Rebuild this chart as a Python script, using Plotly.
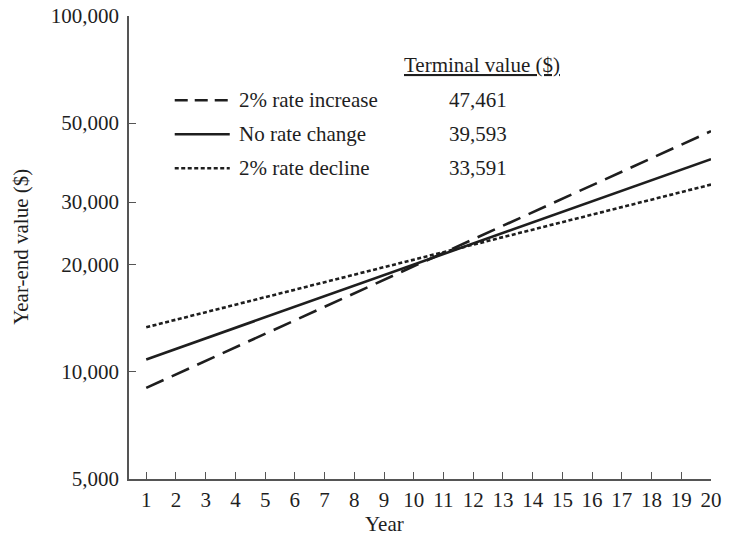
import plotly.graph_objects as go

# ---- data ----
years = [1, 20]
series_names = ["2% rate increase", "No rate change", "2% rate decline"]
rate_increase = [9015, 47461]
no_change = [10840, 39593]
rate_decline = [13350, 33591]
terminal_labels = ["47,461", "39,593", "33,591"]
x_ticks = list(range(1, 21))
y_ticks = [5000, 10000, 20000, 30000, 50000, 100000]
y_tick_text = ["5,000", "10,000", "20,000", "30,000", "50,000", "100,000"]

W, H = 740, 541
L, R, T, B = 129.3, 711.0, 15.7, 479.0
FONT = "Liberation Serif"
INK = "#1e1e1e"
FS = 21

def px(x):
    return (x - L) / (R - L)

def py(y):
    return (B - y) / (B - T)

dashes = ["19px,9px", "solid", "4px,2.5px"]
all_series = [rate_increase, no_change, rate_decline]

fig = go.Figure()
for name, vals, d in zip(series_names, all_series, dashes):
    fig.add_trace(go.Scatter(
        x=years, y=vals, mode="lines", name=name,
        line=dict(color=INK, width=2.6, dash=d),
        showlegend=False, hoverinfo="skip"))

shapes = []
annotations = []
legend_dash = ["13px,7px", "solid", "4px,2.5px"]
row_y = [100, 134, 168]
for name, lab, d, yy in zip(series_names, terminal_labels, legend_dash, row_y):
    shapes.append(dict(type="line", xref="paper", yref="paper",
                       x0=px(175), x1=px(230), y0=py(yy), y1=py(yy),
                       line=dict(color=INK, width=2.6, dash=d)))
    annotations.append(dict(text=name, xref="paper", yref="paper",
                            x=px(237), y=py(yy), xanchor="left", yanchor="middle",
                            showarrow=False, font=dict(family=FONT, size=FS, color=INK)))
    annotations.append(dict(text=lab, xref="paper", yref="paper",
                            x=px(447), y=py(yy), xanchor="left", yanchor="middle",
                            showarrow=False, font=dict(family=FONT, size=FS, color=INK)))
annotations.append(dict(text="<u>Terminal value ($)</u>", xref="paper", yref="paper",
                        x=px(402), y=py(65), xanchor="left", yanchor="middle",
                        showarrow=False, font=dict(family=FONT, size=FS, color=INK)))
annotations.append(dict(text="Year-end value ($)", xref="paper", yref="paper",
                        x=px(22), y=py(247), xanchor="center", yanchor="middle",
                        textangle=-90,
                        showarrow=False, font=dict(family=FONT, size=FS, color=INK)))
annotations.append(dict(text="Year", xref="paper", yref="paper",
                        x=px(385), y=py(524), xanchor="center", yanchor="middle",
                        showarrow=False, font=dict(family=FONT, size=FS, color=INK)))

fig.update_layout(
    width=W, height=H,
    margin=dict(l=L, r=W - R, t=T, b=H - B, pad=0),
    paper_bgcolor="white", plot_bgcolor="white",
    font=dict(family=FONT, size=FS, color=INK),
    shapes=shapes, annotations=annotations,
    showlegend=False,
)
fig.update_xaxes(
    range=[0.42, 20], tickmode="array", tickvals=x_ticks,
    ticktext=[str(v) for v in x_ticks], automargin=False,
    showgrid=False, zeroline=False, showline=True, linecolor="#555555", linewidth=1.6,
    ticks="inside", ticklen=7, tickwidth=1.4, tickcolor="#555555",
    ticklabelstandoff=1,
)
fig.update_yaxes(
    type="log", range=[3.69897, 5.0], tickmode="array", tickvals=y_ticks,
    ticktext=y_tick_text, automargin=False,
    showgrid=False, zeroline=False, showline=True, linecolor="#555555", linewidth=1.6,
    ticks="inside", ticklen=7, tickwidth=1.4, tickcolor="#555555",
    ticklabelstandoff=4,
)

fig.write_html("out.html")
